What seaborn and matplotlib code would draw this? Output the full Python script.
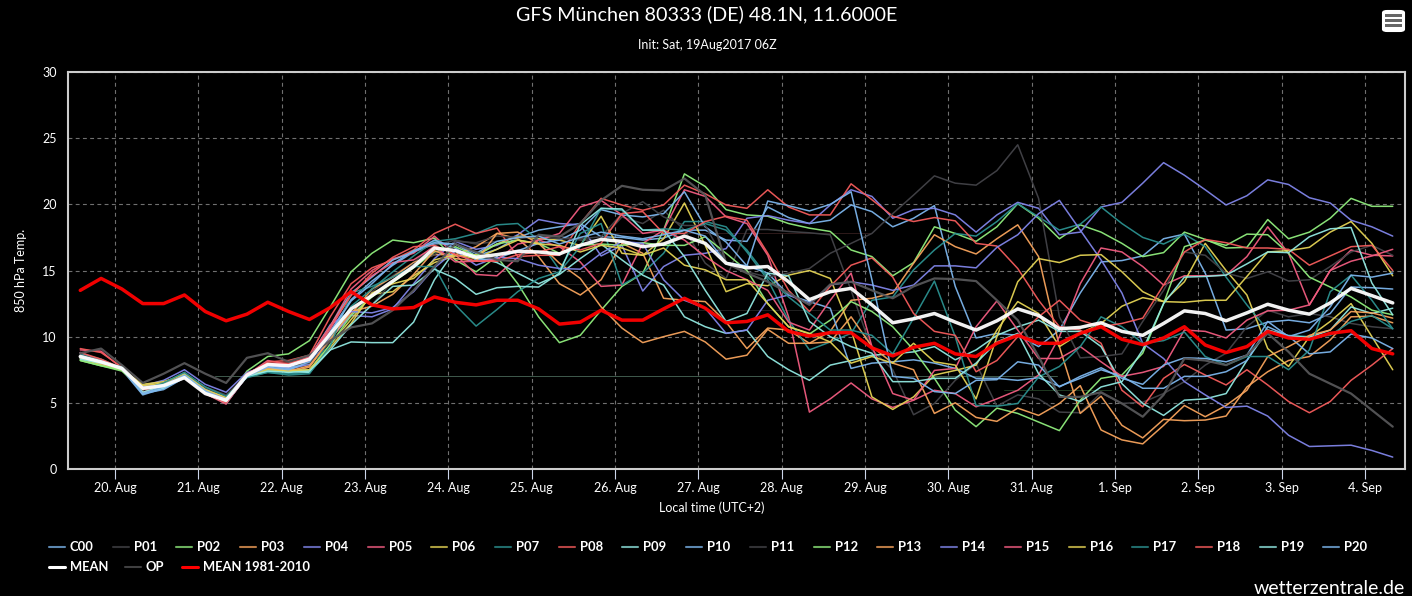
"""GFS ensemble plume, 850 hPa temperature, Munich."""
import matplotlib
matplotlib.use("Agg")
import matplotlib.pyplot as plt
from matplotlib.lines import Line2D
from matplotlib.patches import FancyBboxPatch, Rectangle
import pandas as pd
import seaborn as sns

times = pd.date_range("2017-08-19 14:00", periods=64, freq="6h")

C00 = [8.4,7.9,7.5,5.6,6.1,7.0,5.8,5.0,7.1,7.6,7.5,8.0,10.4,12.8,14.2,15.4,16.4,17.0,17.0,16.1,16.6,17.5,
       18.05,18.3,18.55,17.55,17.5,17.3,17.45,18.05,18.05,17.3,17.2,19.8,19.0,18.55,18.8,19.95,19.45,18.3,18.95,19.9,13.8,
       9.9,10.25,10.1,9.25,10.5,13.3,15.65,15.75,16.1,17.4,17.75,14.8,10.5,10.6,11.1,11.25,11.05,11.75,13.75,13.7,13.6]
P01 = [8.7,8.2,7.6,6.2,6.5,7.3,6.1,5.4,7.1,7.9,7.8,8.3,10.0,11.5,13.4,14.6,15.6,16.9,17.3,17.0,17.2,17.4,
       17.6,17.6,17.3,17.3,19.05,18.55,19.55,18.05,15.55,14.4,18.1,18.1,17.95,17.85,17.7,13.5,9.0,7.5,4.1,4.95,6.7,
       7.95,4.75,5.6,5.3,4.3,4.25,5.75,4.95,5.05,5.7,6.6,7.85,8.75,10.75,12.0,11.5,11.75,11.5,11.0,10.75,10.6]
P02 = [8.2,7.8,7.4,6.0,6.3,6.9,5.8,5.1,7.4,8.5,8.7,9.7,12.25,14.9,16.3,17.3,17.1,17.45,15.8,14.9,16.05,14.0,
       11.5,9.55,10.1,12.0,13.8,14.8,18.05,22.3,21.35,19.6,19.2,19.1,18.55,18.2,17.95,16.55,16.05,14.6,15.6,18.3,17.8,
       17.2,18.3,20.05,18.95,17.4,18.45,17.9,17.05,16.05,16.35,17.9,17.35,16.7,16.75,18.85,17.4,17.9,18.95,20.45,19.85,19.85]
P03 = [8.4,8.0,7.6,6.2,6.5,7.0,5.8,5.1,7.2,7.7,7.3,7.7,9.8,11.7,13.6,14.5,15.6,16.2,16.2,16.8,17.8,17.4,
       16.05,14.0,13.15,14.3,17.05,16.3,12.9,12.75,12.65,11.1,9.1,10.65,10.5,9.5,10.4,12.75,12.9,13.3,15.55,17.7,16.8,
       16.25,17.4,18.45,16.05,9.25,4.2,5.5,3.3,2.35,3.75,3.65,3.7,4.0,6.2,7.35,8.2,8.5,9.75,11.5,11.55,11.05]
P04 = [8.8,8.2,7.5,6.3,6.7,7.5,6.4,5.8,7.3,7.8,7.6,7.9,9.9,11.6,11.5,12.1,14.0,15.9,17.2,16.6,16.9,17.7,
       18.85,18.55,18.45,16.1,16.9,13.45,15.3,16.15,16.3,16.65,18.95,19.15,18.8,18.55,19.95,21.1,20.6,18.95,19.6,19.7,19.2,
       17.9,19.2,20.15,19.7,17.7,17.9,19.8,20.15,21.6,23.15,22.2,21.1,19.95,20.65,21.85,21.5,20.5,20.1,18.8,18.3,17.6]
P05 = [9.0,8.9,7.6,6.0,6.3,7.0,5.7,4.9,7.1,8.2,7.9,8.5,10.8,13.6,15.0,15.9,16.3,17.6,16.2,14.7,14.6,16.0,
       17.3,16.8,15.65,13.8,13.9,17.05,18.05,21.1,20.6,19.05,18.55,16.15,11.5,4.3,5.3,6.5,5.3,4.65,5.2,5.95,5.7,
       4.7,5.3,5.95,7.1,10.0,14.0,16.7,16.4,15.3,13.9,14.6,14.6,14.65,16.05,18.3,16.3,12.4,15.0,16.55,16.15,16.1]
P06 = [8.3,7.9,7.5,6.4,6.6,7.1,5.9,5.4,7.2,7.6,7.5,7.4,9.4,11.3,13.2,13.4,14.6,15.6,16.1,16.2,17.0,17.6,
       17.4,17.3,16.9,19.1,16.3,16.15,17.4,20.1,16.9,13.4,14.0,13.85,14.65,15.0,14.4,10.5,5.45,4.5,5.45,7.1,7.45,
       7.85,10.5,12.65,11.75,9.25,10.25,11.0,12.3,12.95,12.65,14.15,17.05,15.0,13.15,9.1,7.75,10.0,11.15,12.5,10.0,7.5]
P07 = [8.7,8.3,7.6,6.0,6.5,7.1,6.0,5.3,7.0,7.3,7.2,7.3,9.8,12.3,13.6,14.9,16.1,17.2,17.4,17.8,18.45,18.55,
       17.3,15.05,17.8,18.55,13.9,14.8,16.3,18.7,18.7,18.3,16.4,14.3,11.25,9.0,9.6,10.25,12.75,13.0,15.05,16.55,17.8,
       17.6,18.7,20.05,19.05,18.05,18.5,19.8,18.55,17.5,17.0,17.75,16.8,14.5,12.4,10.5,10.1,10.0,10.1,11.15,11.6,10.6]
P08 = [9.1,8.8,7.7,6.1,6.4,6.9,5.7,5.0,7.0,8.1,8.2,8.6,11.5,14.0,15.2,15.8,16.55,17.8,18.5,17.8,18.2,16.05,
       16.15,16.15,18.55,20.45,19.95,19.55,19.95,21.45,20.8,19.95,19.7,21.1,19.8,19.2,19.2,21.55,20.35,19.1,18.7,19.0,18.75,
       17.05,16.85,15.15,12.75,10.75,10.5,9.5,5.95,4.7,6.85,7.9,7.1,6.35,7.5,6.35,5.1,4.25,5.1,6.7,7.85,9.1]
P09 = [8.4,8.0,7.6,5.7,6.1,6.9,5.7,5.0,7.0,7.4,7.4,7.3,9.0,9.6,9.55,9.55,11.1,14.3,16.55,16.0,15.6,14.8,
       14.0,14.7,15.9,17.0,15.8,14.65,13.9,11.5,10.75,10.25,10.5,8.5,7.5,6.7,7.85,8.2,8.6,8.7,8.85,9.25,8.25,
       9.0,10.1,10.75,11.25,10.4,10.4,9.25,6.45,4.95,4.05,5.2,5.3,5.7,8.2,10.5,10.05,9.95,10.5,12.25,11.75,12.15]
P10 = [8.5,8.0,7.6,5.7,6.0,6.9,5.8,5.0,7.0,7.8,7.6,8.2,10.8,13.3,14.5,15.8,16.4,17.3,16.7,15.8,15.9,16.5,
       17.05,17.3,18.05,19.6,19.2,19.05,19.3,20.95,18.3,17.15,15.35,14.8,13.15,12.65,12.15,7.6,8.0,8.1,8.25,8.0,7.6,
       6.85,6.85,6.7,6.9,6.25,6.85,7.5,7.0,6.1,6.1,7.0,7.0,7.35,8.2,10.75,10.05,8.7,8.85,10.2,9.9,9.1]
P11 = [8.6,8.2,7.7,6.2,6.5,7.2,6.2,5.6,7.1,7.9,7.8,8.0,9.6,11.0,12.4,14.2,15.5,16.2,17.2,17.1,17.6,17.5,
       17.55,17.4,17.4,17.55,19.3,20.2,19.05,18.4,18.4,15.55,14.9,14.5,14.8,15.15,16.3,17.05,17.8,19.3,20.7,22.15,21.6,
       21.45,22.55,24.5,20.45,11.5,8.4,8.5,8.7,11.15,13.5,16.4,16.15,14.8,14.4,14.9,14.2,14.3,15.3,16.4,16.9,16.15]
P12 = [8.2,7.8,7.5,6.0,6.4,7.0,5.9,5.2,7.1,7.6,7.4,7.5,9.4,11.6,13.0,14.1,15.2,16.4,16.8,16.1,17.0,17.3,
       17.05,16.3,16.9,17.0,16.9,17.1,16.9,16.9,17.55,16.3,15.0,12.5,10.75,10.2,11.25,12.65,11.9,10.75,9.0,6.85,4.45,
       3.2,4.6,4.2,3.55,2.9,5.2,6.85,7.1,8.75,12.5,16.8,17.3,16.9,17.75,17.7,16.3,14.5,13.75,13.0,12.0,11.65]
P13 = [8.5,8.0,7.6,6.1,6.3,7.1,5.9,5.3,7.2,7.6,7.4,7.8,9.8,11.9,12.3,13.2,14.7,16.5,15.9,15.7,17.8,17.9,
       17.05,15.55,14.4,12.25,10.65,9.55,10.0,10.4,9.6,8.3,8.6,10.55,9.5,9.5,9.6,11.5,9.25,8.0,7.5,4.2,5.0,
       3.9,3.6,4.6,4.05,4.95,6.3,2.95,2.2,1.9,3.3,4.8,3.95,4.8,5.95,8.5,9.25,10.1,10.5,11.9,11.8,11.4]
P14 = [8.4,8.1,7.6,6.2,6.4,7.0,6.0,5.3,7.2,7.9,7.7,8.4,10.9,11.9,11.8,12.2,13.4,15.2,16.5,15.4,16.0,15.9,
       15.4,15.15,15.1,16.3,17.2,17.05,14.3,12.75,12.15,10.25,10.5,12.75,13.15,12.5,13.9,14.15,13.9,13.5,13.9,15.35,15.35,
       15.2,16.75,17.7,19.3,20.3,18.05,15.8,13.3,9.5,8.35,6.6,5.6,4.65,4.75,4.0,2.55,1.7,1.75,1.8,1.4,0.9]
P15 = [8.6,8.0,7.6,5.8,6.3,6.9,5.8,5.0,7.0,7.9,7.9,8.2,10.6,13.2,14.6,15.6,15.8,16.8,15.65,15.7,15.8,17.0,
       17.3,17.8,19.8,20.3,19.2,17.8,18.05,17.3,16.05,15.0,14.3,13.5,11.1,10.5,12.75,14.8,9.25,5.7,5.2,7.45,7.6,
       10.75,12.7,10.5,8.35,8.35,9.25,8.1,7.0,7.3,7.75,10.5,10.4,9.9,11.25,11.95,12.0,12.4,15.0,15.7,16.1,16.6]
P16 = [8.4,8.0,7.6,6.3,6.5,7.2,6.0,5.4,7.0,7.5,7.4,7.5,9.2,11.0,13.3,14.0,14.4,15.8,16.2,15.9,16.6,17.3,
       17.0,16.9,16.4,16.9,16.7,16.15,16.7,15.4,15.05,14.3,14.3,12.5,10.75,10.25,9.6,8.0,8.5,8.0,9.5,8.1,7.85,
       5.3,10.0,14.15,15.9,15.6,16.15,16.2,14.9,13.4,12.65,12.6,12.75,12.75,14.55,16.4,16.5,16.75,17.9,18.7,17.05,14.6]
P17 = [8.6,8.1,7.7,6.0,6.5,7.3,6.2,5.5,6.9,7.3,7.1,7.2,9.3,13.3,13.8,14.5,15.3,15.3,12.4,10.8,12.05,13.4,
       14.4,14.9,16.8,19.7,19.55,18.05,18.15,18.05,18.55,18.05,16.55,14.5,13.0,11.75,10.5,10.5,10.1,8.7,11.4,14.2,10.0,
       4.8,4.75,4.95,6.95,7.75,9.25,11.5,10.75,9.5,9.7,10.35,8.5,7.85,8.5,8.5,7.5,9.0,13.4,14.65,12.75,10.6]
P18 = [8.8,8.3,7.6,6.0,6.3,6.9,5.7,5.0,7.2,8.0,8.0,8.4,10.8,13.1,14.8,16.0,16.8,16.9,16.2,15.7,15.7,16.2,
       16.4,16.8,16.55,17.05,19.3,19.45,17.8,17.8,18.7,19.1,18.8,16.3,13.5,11.9,13.8,15.4,15.95,14.5,11.75,10.4,10.1,
       7.35,8.2,10.0,11.5,12.75,11.25,10.75,11.0,11.4,13.9,16.4,17.35,17.1,16.7,16.7,16.6,15.4,16.1,16.8,16.9,15.0]
P19 = [8.3,8.0,7.7,5.8,6.3,7.0,5.8,5.1,7.0,7.4,7.3,7.4,9.0,10.9,12.4,13.8,13.9,15.1,14.4,13.2,13.7,13.8,
       13.75,14.8,18.45,19.7,19.65,18.05,18.05,16.05,13.5,11.15,11.75,14.8,14.6,11.15,10.0,9.25,8.75,6.6,6.6,6.85,6.85,
       8.0,9.6,10.25,7.2,5.6,5.1,6.2,6.6,9.0,12.5,14.5,14.55,14.65,15.5,16.4,16.35,17.55,18.15,18.25,14.05,11.65]
P20 = [8.5,8.1,7.6,5.7,6.2,7.1,5.9,5.2,7.0,7.7,7.5,8.1,10.3,12.7,14.0,15.5,16.5,17.1,17.0,16.3,17.2,17.5,
       17.6,17.0,17.5,17.9,17.6,17.4,17.7,18.05,17.6,15.6,15.35,20.25,19.9,19.5,20.0,20.95,14.3,7.0,6.85,5.85,5.7,
       6.7,6.75,8.1,7.85,6.2,7.0,7.65,6.85,6.4,7.85,8.4,8.35,8.1,8.6,11.15,10.0,10.5,12.25,14.65,14.5,14.8]
MEAN = [8.5,8.1,7.6,6.1,6.3,6.9,5.7,5.2,7.1,7.9,7.8,8.3,10.2,12.1,13.1,14.2,15.3,16.7,16.5,16.0,16.2,16.45,
        16.4,16.25,16.9,17.35,17.2,16.8,17.0,17.6,17.05,15.55,15.2,15.3,14.15,12.8,13.4,13.65,12.4,11.05,11.35,11.75,11.1,
        10.5,11.2,12.1,11.6,10.6,10.7,11.05,10.4,10.1,11.0,11.95,11.75,11.2,11.8,12.45,12.0,11.7,12.55,13.65,13.1,12.55]
OP = [8.75,9.1,7.85,6.5,7.2,8.0,7.2,6.5,8.4,8.75,8.1,8.6,9.7,10.7,11.0,12.0,13.5,15.3,17.0,16.4,15.8,15.7,
      17.7,17.55,18.55,20.3,21.4,21.1,21.05,21.95,20.7,15.55,14.8,14.15,13.3,12.4,13.95,14.15,13.5,12.9,13.8,14.4,14.35,
      14.2,12.75,11.25,8.5,5.45,5.45,5.8,4.95,3.95,5.6,8.35,8.2,7.85,8.6,10.25,8.85,7.2,6.45,5.7,4.45,3.2]
CLIM = [13.5,14.4,13.6,12.5,12.5,13.15,11.9,11.2,11.7,12.6,11.9,11.3,12.2,13.4,12.4,12.1,12.2,13.0,12.6,12.4,12.75,12.75,
        12.1,10.95,11.1,12.0,11.25,11.25,12.1,12.9,12.15,11.05,11.15,11.65,10.4,10.05,10.3,10.3,9.15,8.55,9.2,9.5,8.7,
        8.5,9.5,10.1,9.5,9.5,10.25,10.75,9.8,9.4,9.9,10.75,9.37,8.8,9.25,10.4,9.9,9.8,10.25,10.45,9.1,8.7]

member_names = ["C00"] + [f"P{i:02d}" for i in range(1, 21)]
members = [C00, P01, P02, P03, P04, P05, P06, P07, P08, P09, P10,
           P11, P12, P13, P14, P15, P16, P17, P18, P19, P20]
cycle = ["#7cb5ec", "#434348", "#90ed7d", "#f7a35c", "#8085e9",
         "#f15c80", "#e4d354", "#2b908f", "#f45b5b", "#91e8e1"]
day_ticks = pd.date_range("2017-08-20", "2017-09-04", freq="D")
day_labels = [f"{d.day}. {d.strftime('%b')}" for d in day_ticks]
y_ticks = [0, 5, 10, 15, 20, 25, 30]
clim_name = "MEAN 1981-2010"

sns.set_style("dark")
plt.rcParams["font.family"] = ["Lato", "DejaVu Sans"]
TEXT = "#ffffff"
W, H = 1412, 596

palette = {n: cycle[i % 10] for i, n in enumerate(member_names)}
palette.update({"OP": "#565658", "MEAN": "#ffffff", clim_name: "#ff0000"})
sizes = {n: 1.1 for n in member_names}
sizes.update({"OP": 1.6, "MEAN": 2.5, clim_name: 2.5})

series = dict(zip(member_names, members))
series.update({"OP": OP, "MEAN": MEAN, clim_name: CLIM})
df = pd.concat([pd.DataFrame({"time": times, "temp": v, "run": k}) for k, v in series.items()])

fig = plt.figure(figsize=(W / 100, H / 100), dpi=100, facecolor="black")
ax = fig.add_axes([68 / W, 1 - 469 / H, (1405 - 68) / W, (469 - 72) / H], facecolor="black")

# faint stray horizontal lines of the original
for val, col, x0, x1 in [(7.05, "#3f5a4d", 0.11, 0.74), (12.0, "#222222", 0.36, 0.75),
                         (14.0, "#222222", 0.35, 0.5), (17.8, "#2e1a1a", 0.4, 0.6),
                         (6.0, "#1f3a22", 0.7, 0.78)]:
    ax.axhline(val, x0, x1, color=col, lw=0.7, zorder=1)

sns.lineplot(data=df, x="time", y="temp", hue="run", size="run", palette=palette, sizes=sizes,
             hue_order=list(series), size_order=list(series), estimator=None, sort=False,
             legend=False, ax=ax, alpha=0.95, zorder=3)

x_left = day_ticks[0] - pd.Timedelta(days=(115 - 68) / 83.33)
x_right = day_ticks[0] + pd.Timedelta(days=(1405 - 115) / 83.33)
ax.set_xlim(x_left, x_right)
ax.set_ylim(0, 30)
ax.set_xticks(day_ticks)
ax.set_xticklabels(day_labels)
ax.set_yticks(y_ticks)
ax.grid(True, color="#707070", linestyle=(0, (3.5, 3)), linewidth=0.8)
ax.set_axisbelow(True)
ax.tick_params(axis="x", colors="#ccd6eb", length=7, width=0.8, bottom=True, labelcolor=TEXT, labelsize=9, pad=2)
ax.tick_params(axis="y", length=0, labelcolor=TEXT, labelsize=9, pad=8)
for spine in ax.spines.values():
    spine.set_color("#cccccc")
    spine.set_linewidth(1.5)
ax.set_xlabel("")
ax.set_ylabel("")

fig.text(707 / W, 1 - 14 / H, "GFS München 80333 (DE) 48.1N, 11.6000E", color=TEXT, fontsize=14.2, ha="center", va="center")
fig.text(707 / W, 1 - 45 / H, "Init: Sat, 19Aug2017 06Z", color=TEXT, fontsize=9, ha="center", va="center")
fig.text(21 / W, 1 - 270 / H, "850 hPa Temp.", color=TEXT, fontsize=9, rotation=90, ha="center", va="center")
fig.text(712 / W, 1 - 508 / H, "Local time (UTC+2)", color=TEXT, fontsize=9, ha="center", va="center")
fig.text(1405 / W, 1 - 588 / H, "wetterzentrale.de", color=TEXT, fontsize=14, ha="right", va="center")


def legend_entry(name, x, y):
    col = palette[name]
    lw = {"MEAN": 2.2, clim_name: 2.2}.get(name, 1.5)
    alpha = 1 if name in ("MEAN", clim_name) else 0.75
    fig.add_artist(Line2D([x / W, (x + 16) / W], [1 - y / H] * 2, color=col, lw=lw, alpha=alpha))
    fig.text((x + 21) / W, 1 - y / H, name, color=TEXT, fontsize=9.4, fontweight="bold", ha="left", va="center")


for i, name in enumerate(member_names):
    legend_entry(name, 49 + i * 63.72, 547)
legend_entry("MEAN", 49, 567)
legend_entry("OP", 125, 567)
legend_entry(clim_name, 182, 567)

# menu button
fig.add_artist(FancyBboxPatch((1383 / W, 1 - 31 / H), 21 / W, 20 / H, boxstyle="round,pad=0,rounding_size=0.003",
                              transform=fig.transFigure, fc="white", ec="white", lw=1.5))
for by in (15, 20.5, 25.5):
    fig.add_artist(Rectangle((1385 / W, 1 - (by + 1.5) / H), 17 / W, 3 / H, transform=fig.transFigure, fc="#666666", ec="none"))

fig.savefig("out.png", dpi=100, facecolor="black")
